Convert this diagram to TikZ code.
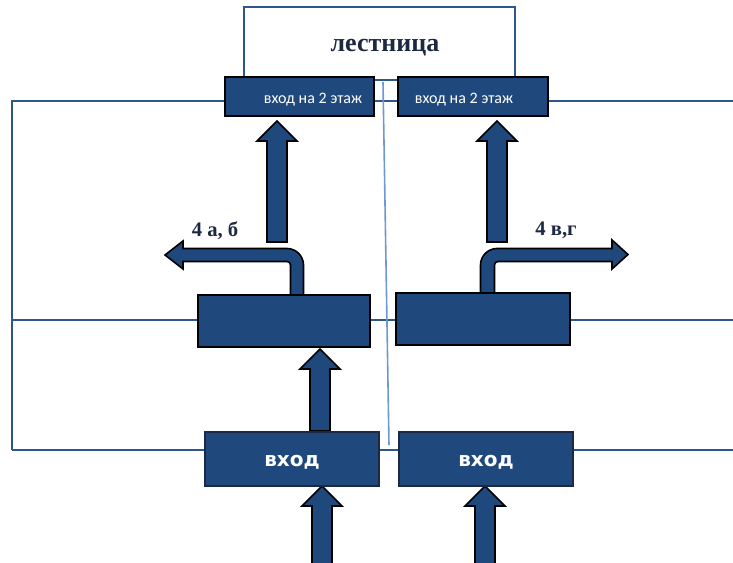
\documentclass[tikz,border=0pt]{standalone}
\usepackage{fontspec}
\setmainfont{Liberation Serif}
\newfontfamily\boxfont{Carlito}
\newfontfamily\entfont{DejaVu Sans}
\usepackage{tikz}
\usetikzlibrary{calc}
\definecolor{planblue}{RGB}{31,73,125}
\definecolor{wallblue}{RGB}{47,88,138}
\definecolor{splitblue}{RGB}{110,152,208}
\definecolor{labelnavy}{RGB}{28,40,68}

\tikzset{
  wall/.style={wallblue, line width=1.5pt},
  room/.style={draw=black, fill=planblue, line width=1.4pt, inner sep=0pt},
  flow/.style={draw=black, fill=planblue, line width=1.2pt, line join=miter},
}

\begin{document}
\begin{tikzpicture}[x=0.75pt, y=-0.75pt]
   \useasboundingbox (0,0) rectangle (733,563);

   % stair on top
   \node[draw=wallblue, line width=1.5pt, fill=white, minimum width=271*0.75pt, minimum height=73*0.75pt] (stair) at (379.5,43.5) {};
   \node[labelnavy] (stairtxt) at (385,48) {\fontsize{19.5}{22}\selectfont\bfseries лестница};

   % arrows, first we draw them so the rooms lie on top
   \foreach \x/\yb/\yt in {{322/570/486}, {485/570/486}, {320/431/349}, {277/242/121}, {497/242/121}}
      \draw[flow] (\x-10,\yb) -- (\x-10,\yt+20) -- (\x-20,\yt+20) -- (\x,\yt) -- (\x+20,\yt+20) -- (\x+10,\yt+20) -- (\x+10,\yb) -- cycle;

   \draw[flow] (303.5,296) -- (303.5,265) .. controls (303.5,256) and (296,248.5) .. (287,248.5) -- (183,248.5) -- (183,241) -- (165,255) -- (183,269) -- (183,261.5) -- (287,261.5) .. controls (289,261.5) and (290.5,263) .. (290.5,265) -- (290.5,296) -- cycle;
   \draw[flow] (480.5,294) -- (480.5,265) .. controls (480.5,256) and (488,248.5) .. (497,248.5) -- (612,248.5) -- (612,240) -- (628,254.5) -- (612,269) -- (612,261.5) -- (498,261.5) .. controls (496,261.5) and (494.5,263) .. (494.5,265) -- (494.5,294) -- cycle;

   \node[labelnavy] (lab1) at (215,231) {\fontsize{15.5}{17}\selectfont\bfseries 4 а, б};
   \node[labelnavy] (lab2) at (556,230) {\fontsize{15.5}{17}\selectfont\bfseries 4 в,г};

   % rooms
   \node[room, minimum width=149*0.75pt, minimum height=39*0.75pt] (top1) at (299.5,96.5) {};
   \node[room, minimum width=150*0.75pt, minimum height=39*0.75pt] (top2) at (473,96.5) {};
   \node[room, minimum width=172*0.75pt, minimum height=52*0.75pt] (mid1) at (284,321) {};
   \node[room, minimum width=174*0.75pt, minimum height=52*0.75pt] (mid2) at (483,319) {};
   \node[room, draw=labelnavy, line width=1pt, minimum width=174*0.75pt, minimum height=54*0.75pt] (in1) at (292,459) {};
   \node[room, draw=labelnavy, line width=1pt, minimum width=174*0.75pt, minimum height=54*0.75pt] (in2) at (486,459) {};

   \node[white] (top1txt) at (313,100) {\boxfont\fontsize{12}{14}\selectfont вход на 2 этаж};
   \node[white] (top2txt) at (464,100) {\boxfont\fontsize{12}{14}\selectfont вход на 2 этаж};
   \foreach \r in {in1, in2}
      \node[white] at ($(\r.center)+(0,3)$) {\entfont\fontsize{15}{17}\selectfont\bfseries вход};

   % walls
   \draw[wall] (12,450) -- (12,101) -- (12,101 -| top1.west);
   \draw[wall] (top1.east |- 0,101) -- (top2.west |- 0,101);
   \draw[wall] (top2.east |- 0,101) -- (733,101);
   \draw[wall] (12,320) -- (12,320 -| mid1.west);
   \draw[wall] (mid1.east |- 0,320) -- (mid2.west |- 0,320);
   \draw[wall] (mid2.east |- 0,320) -- (733,320);
   \draw[wall] (12,450) -- (12,450 -| in1.west);
   \draw[wall] (in1.east |- 0,450) -- (in2.west |- 0,450);
   \draw[wall] (in2.east |- 0,450) -- (733,450);

   % thin split between the halves
   \draw[splitblue, line width=1.2pt] (383,82) -- (389,445);
\end{tikzpicture}
\end{document}
